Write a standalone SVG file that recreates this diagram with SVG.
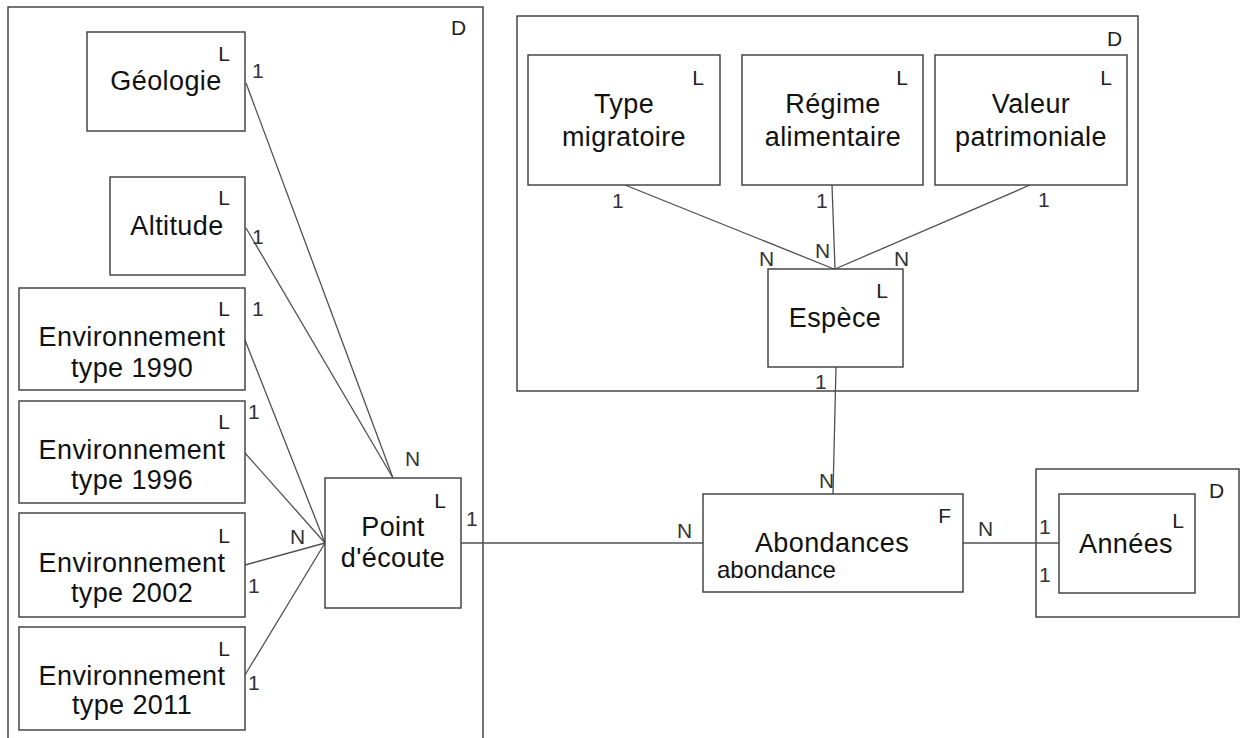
<svg xmlns="http://www.w3.org/2000/svg" width="1240" height="738" viewBox="0 0 1240 738">
  <style>
    .dim { fill: #ffffff; stroke: #3a3a3a; stroke-width: 1.4; }
    .ent { fill: #ffffff; stroke: #3a3a3a; stroke-width: 1.4; }
    .name { font-family: "Liberation Sans", Arial, sans-serif; font-size: 27px; fill: #111; text-anchor: middle; letter-spacing: 0.4px; }
    .attr { font-family: "Liberation Sans", Arial, sans-serif; font-size: 24px; fill: #111; }
    .tag { font-family: "Liberation Sans", Arial, sans-serif; font-size: 21px; fill: #222; }
    .tagR { font-family: "Liberation Sans", Arial, sans-serif; font-size: 21px; fill: #222; text-anchor: end; }
    .card { font-family: "Liberation Sans", Arial, sans-serif; font-size: 21px; fill: #333; }
    .link { stroke: #505050; stroke-width: 1.3; fill: none; }
  </style>

  <!-- dimension containers -->
  <g id="dim-point">
    <rect class="dim" x="8" y="7" width="475" height="745"/>
    <text class="tag" x="451" y="35">D</text>
  </g>
  <g id="dim-espece">
    <rect class="dim" x="517" y="16" width="621" height="375"/>
    <text class="tag" x="1107" y="46">D</text>
  </g>
  <g id="dim-annees">
    <rect class="dim" x="1036" y="469" width="203" height="148"/>
    <text class="tag" x="1209" y="498">D</text>
  </g>

  <!-- connectors -->
  <g id="connectors">
    <line class="link" x1="246" y1="83" x2="393" y2="478"/>
    <line class="link" x1="246" y1="228" x2="393" y2="478"/>
    <line class="link" x1="245" y1="340" x2="325" y2="543"/>
    <line class="link" x1="245" y1="453" x2="325" y2="543"/>
    <line class="link" x1="245" y1="565" x2="325" y2="543"/>
    <line class="link" x1="245" y1="675" x2="325" y2="543"/>
    <line class="link" x1="461" y1="543" x2="703" y2="543"/>
    <line class="link" x1="625" y1="185" x2="834" y2="269"/>
    <line class="link" x1="832" y1="185" x2="835" y2="269"/>
    <line class="link" x1="1030" y1="185" x2="835" y2="269"/>
    <line class="link" x1="836" y1="367" x2="833" y2="494"/>
    <line class="link" x1="963" y1="543" x2="1059" y2="543"/>

    <!-- cardinalities -->
    <text class="card" x="252" y="78">1</text>
    <text class="card" x="252" y="244">1</text>
    <text class="card" x="252" y="316">1</text>
    <text class="card" x="248" y="419">1</text>
    <text class="card" x="248" y="593">1</text>
    <text class="card" x="248" y="690">1</text>
    <text class="card" x="290" y="544">N</text>
    <text class="card" x="405" y="466">N</text>
    <text class="card" x="466" y="526">1</text>
    <text class="card" x="677" y="538">N</text>
    <text class="card" x="612" y="208">1</text>
    <text class="card" x="816" y="208">1</text>
    <text class="card" x="1038" y="207">1</text>
    <text class="card" x="759" y="266">N</text>
    <text class="card" x="815" y="258">N</text>
    <text class="card" x="894" y="266">N</text>
    <text class="card" x="815" y="389">1</text>
    <text class="card" x="819" y="488">N</text>
    <text class="card" x="978" y="536">N</text>
    <text class="card" x="1039" y="534">1</text>
    <text class="card" x="1039" y="582">1</text>
  </g>

  <!-- levels -->
  <g id="geologie">
    <rect class="ent" x="87" y="32" width="158" height="99"/>
    <text class="tagR" x="230" y="61">L</text>
    <text class="name" x="166" y="90">Géologie</text>
  </g>
  <g id="altitude">
    <rect class="ent" x="110" y="177" width="135" height="98"/>
    <text class="tagR" x="230" y="205">L</text>
    <text class="name" x="177" y="235">Altitude</text>
  </g>
  <g id="env-1990">
    <rect class="ent" x="19" y="288" width="226" height="102"/>
    <text class="tagR" x="230" y="316">L</text>
    <text class="name" x="132" y="346">Environnement</text>
    <text class="name" x="132" y="377">type 1990</text>
  </g>
  <g id="env-1996">
    <rect class="ent" x="19" y="401" width="226" height="102"/>
    <text class="tagR" x="230" y="429">L</text>
    <text class="name" x="132" y="459">Environnement</text>
    <text class="name" x="132" y="489">type 1996</text>
  </g>
  <g id="env-2002">
    <rect class="ent" x="19" y="513" width="226" height="104"/>
    <text class="tagR" x="230" y="543">L</text>
    <text class="name" x="132" y="572">Environnement</text>
    <text class="name" x="132" y="602">type 2002</text>
  </g>
  <g id="env-2011">
    <rect class="ent" x="19" y="627" width="226" height="103"/>
    <text class="tagR" x="230" y="656">L</text>
    <text class="name" x="132" y="685">Environnement</text>
    <text class="name" x="132" y="714">type 2011</text>
  </g>
  <g id="point-ecoute">
    <rect class="ent" x="325" y="478" width="136" height="130"/>
    <text class="tagR" x="446" y="508">L</text>
    <text class="name" x="393" y="536">Point</text>
    <text class="name" x="393" y="567">d'écoute</text>
  </g>
  <g id="type-migratoire">
    <rect class="ent" x="528" y="55" width="192" height="130"/>
    <text class="tagR" x="704" y="85">L</text>
    <text class="name" x="624" y="113">Type</text>
    <text class="name" x="624" y="146">migratoire</text>
  </g>
  <g id="regime-alimentaire">
    <rect class="ent" x="742" y="55" width="181" height="130"/>
    <text class="tagR" x="908" y="85">L</text>
    <text class="name" x="833" y="113">Régime</text>
    <text class="name" x="833" y="146">alimentaire</text>
  </g>
  <g id="valeur-patrimoniale">
    <rect class="ent" x="935" y="55" width="192" height="130"/>
    <text class="tagR" x="1112" y="85">L</text>
    <text class="name" x="1031" y="113">Valeur</text>
    <text class="name" x="1031" y="146">patrimoniale</text>
  </g>
  <g id="espece">
    <rect class="ent" x="768" y="269" width="135" height="98"/>
    <text class="tagR" x="888" y="298">L</text>
    <text class="name" x="835" y="327">Espèce</text>
  </g>
  <g id="abondances">
    <rect class="ent" x="703" y="494" width="260" height="98"/>
    <text class="tagR" x="951" y="523">F</text>
    <text class="name" x="832" y="552">Abondances</text>
    <text class="attr" x="717" y="578">abondance</text>
  </g>
  <g id="annees">
    <rect class="ent" x="1059" y="494" width="136" height="99"/>
    <text class="tagR" x="1184" y="528">L</text>
    <text class="name" x="1126" y="553">Années</text>
  </g>
</svg>
